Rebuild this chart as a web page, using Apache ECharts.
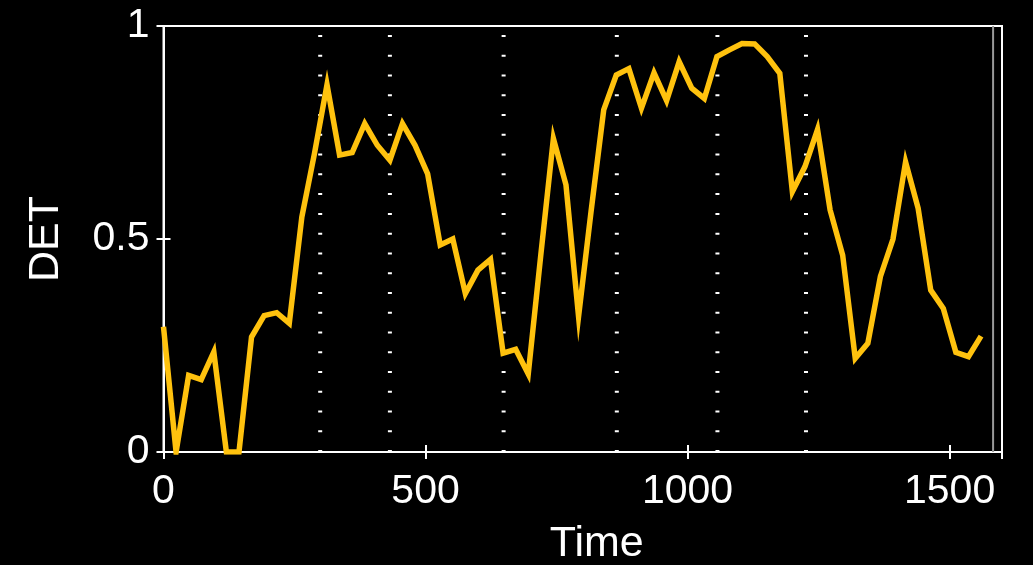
<!DOCTYPE html>
<html>
<head>
<meta charset="utf-8">
<title>DET over time</title>
<script src="https://cdn.jsdelivr.net/npm/echarts@6/dist/echarts.min.js"></script>
<style>
  html, body { margin: 0; padding: 0; background: #000; }
  #chart { width: 1033px; height: 565px; }
</style>
</head>
<body>
<div id="chart"></div>
<script>
// Sample times (x) of the DET measure
const time = [
  0, 24, 48, 72, 96, 120, 144, 168, 192, 216, 240, 264, 288, 312, 336, 360,
  384, 408, 432, 456, 480, 504, 528, 552, 576, 600, 624, 648, 672, 696, 720,
  744, 768, 792, 816, 840, 864, 888, 912, 936, 960, 984, 1008, 1032, 1056,
  1080, 1104, 1128, 1152, 1176, 1200, 1224, 1248, 1272, 1296, 1320, 1344,
  1368, 1392, 1416, 1440, 1464, 1488, 1512, 1536, 1560
];

// Determinism values at each sample time
const det = [
  0.294, 0.0, 0.18, 0.17, 0.235, 0.0, 0.0, 0.27, 0.32, 0.327, 0.302, 0.552,
  0.70, 0.862, 0.697, 0.703, 0.771, 0.72, 0.685, 0.771, 0.72, 0.653, 0.486,
  0.50, 0.372, 0.427, 0.452, 0.232, 0.241, 0.183, 0.463, 0.736, 0.627, 0.318,
  0.566, 0.803, 0.885, 0.90, 0.807, 0.89, 0.825, 0.916, 0.854, 0.83, 0.928,
  0.944, 0.959, 0.958, 0.928, 0.889, 0.611, 0.67, 0.757, 0.568, 0.462, 0.22,
  0.255, 0.412, 0.50, 0.681, 0.572, 0.38, 0.337, 0.234, 0.224, 0.272
];

// Event markers drawn as dotted vertical lines
const eventTimes = [299, 432, 649, 865, 1057, 1226];

// Secondary frame edge inside the right border
const innerEdge = [1583];

// Axis ranges and tick spacing
const xRange = [0, 1600];
const xTickStep = 500;
const yRange = [0, 1];
const yTickStep = 0.5;

const FONT = '"Liberation Sans", Arial, Helvetica, sans-serif';
const LINE_COLOR = '#FFC20E';

const chart = echarts.init(document.getElementById('chart'), null, { renderer: 'canvas' });

const tickStyle = { show: true, inside: true, length: 7, lineStyle: { color: '#fff', width: 2 } };
const plainNumber = function (v) { return String(v); };

const series = [];

eventTimes.forEach(function (t) {
  series.push({
    type: 'line',
    data: [[t, yRange[0]], [t, yRange[1]]],
    symbol: 'none',
    silent: true,
    clip: false,
    lineStyle: { color: '#fff', width: 4, type: [2, 17.76], cap: 'butt' },
    z: 2
  });
});

innerEdge.forEach(function (t) {
  series.push({
    type: 'line',
    data: [[t, yRange[0]], [t, yRange[1]]],
    symbol: 'none',
    silent: true,
    lineStyle: { color: '#9a9a9a', width: 2 },
    z: 2
  });
});

series.push({
  type: 'line',
  data: time.map(function (t, i) { return [t, det[i]]; }),
  symbol: 'none',
  lineStyle: { color: LINE_COLOR, width: 5.5, join: 'miter' },
  z: 3
});

chart.setOption({
  backgroundColor: '#000',
  animation: false,
  grid: {
    left: 163.5, right: 31, top: 26, bottom: 113,
    containLabel: false, outerBoundsMode: 'none',
    show: true, borderColor: '#fff', borderWidth: 2, backgroundColor: 'transparent'
  },
  xAxis: [
    {
      type: 'value', position: 'bottom',
      min: xRange[0], max: xRange[1], interval: xTickStep,
      name: 'Time', nameLocation: 'middle', nameGap: 71,
      nameTextStyle: { color: '#fff', fontSize: 43, fontFamily: FONT, padding: [0, 0, 0, 28] },
      axisLine: { show: true, lineStyle: { color: '#fff', width: 2 } },
      axisTick: tickStyle,
      axisLabel: { color: '#fff', fontSize: 41, fontFamily: FONT, margin: 19, showMaxLabel: false, formatter: plainNumber },
      splitLine: { show: false }
    },
    {
      type: 'value', position: 'top',
      min: xRange[0], max: xRange[1], interval: xTickStep,
      axisLine: { show: true, lineStyle: { color: '#fff', width: 2 } },
      axisTick: tickStyle,
      axisLabel: { show: false },
      splitLine: { show: false }
    }
  ],
  yAxis: [
    {
      type: 'value', position: 'left',
      min: yRange[0], max: yRange[1], interval: yTickStep,
      name: 'DET', nameLocation: 'middle', nameGap: 96, nameRotate: 90,
      nameTextStyle: { color: '#fff', fontSize: 43, fontFamily: FONT },
      axisLine: { show: true, lineStyle: { color: '#fff', width: 2 } },
      axisTick: tickStyle,
      axisLabel: { color: '#fff', fontSize: 41, fontFamily: FONT, margin: 14, formatter: plainNumber },
      splitLine: { show: false }
    },
    {
      type: 'value', position: 'right',
      min: yRange[0], max: yRange[1], interval: yTickStep,
      axisLine: { show: true, lineStyle: { color: '#fff', width: 2 } },
      axisTick: tickStyle,
      axisLabel: { show: false },
      splitLine: { show: false }
    }
  ],
  series: series
});
</script>
</body>
</html>
